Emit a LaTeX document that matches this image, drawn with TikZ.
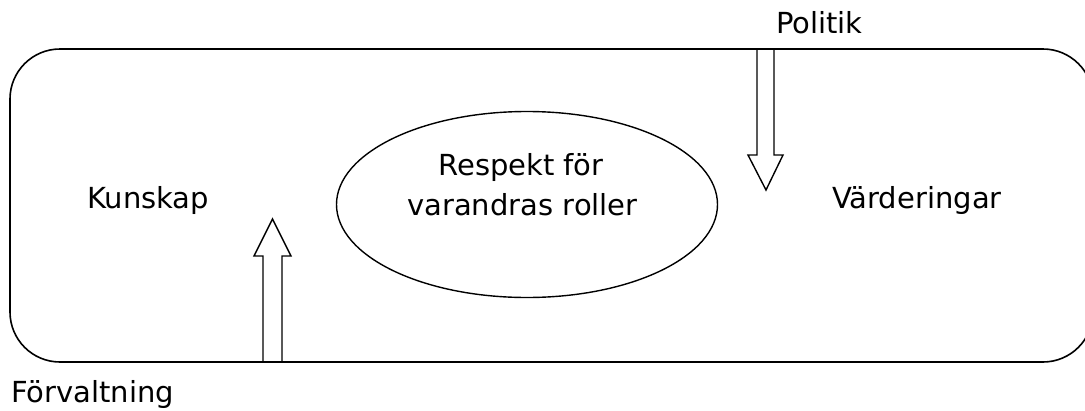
\documentclass[tikz,border=0pt]{standalone}
\usepackage{fontspec}
\setmainfont{DejaVu Sans}
\usetikzlibrary{shapes.geometric}
\tikzset{
  lbl/.style={inner sep=0pt, anchor=base west, font=\fontsize{29}{40}\selectfont},
  ctr/.style={inner sep=0pt, anchor=base, font=\fontsize{29}{40}\selectfont},
  frame/.style={draw=black, line width=1.6pt},
  blockarrow/.style={draw=black, fill=white, line width=1.4pt, line join=miter},
}
\begin{document}
\begin{tikzpicture}[x=1pt,y=-1pt]
\useasboundingbox (0,0) rectangle (1085,410);
\clip (0,0) rectangle (1085,410);
% outer rounded frame (right side runs beyond the picture)
\draw[frame, rounded corners=50pt] (10,49) rectangle (1093,362);
% ellipse
\node[draw=black, line width=1.4pt, ellipse, minimum width=381pt, minimum height=186pt, inner sep=0pt] (ell) at (527,204.5) {};
\node[ctr] (resp1) at (521,175) {Respekt för};
\node[ctr] (resp2) at (522.5,215) {varandras roller};
% labels
\node[lbl] (kunskap) at (87,208) {Kunskap};
\node[lbl] (varde) at (832,208) {Värderingar};
\node[lbl] (politik) at (776,33) {Politik};
\node[lbl] (forv) at (11,402) {Förvaltning};
% block arrow from Politik (down)
\draw[blockarrow] (757,49) -- (757,155) -- (748,155) -- (766,190) -- (783,155) -- (774,155) -- (774,49) -- cycle;
% block arrow from Förvaltning (up)
\draw[blockarrow] (263,362) -- (263,256) -- (254,256) -- (272.5,219) -- (291,256) -- (282,256) -- (282,362) -- cycle;
% redraw frame lines over arrow ends
\draw[frame] (740,49) -- (800,49);
\draw[frame] (240,362) -- (300,362);
\end{tikzpicture}
\end{document}
